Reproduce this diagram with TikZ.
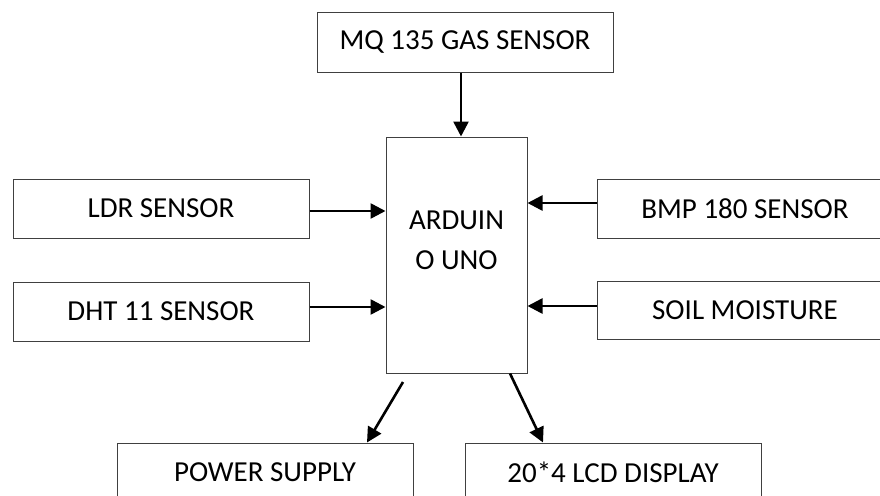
\documentclass[tikz,border=0pt]{standalone}
\usepackage{fontspec}
\setmainfont{Carlito}
\usetikzlibrary{arrows.meta}
\begin{document}
\begin{tikzpicture}[x=1pt,y=-1pt,
  box/.style={draw=black!75,line width=1pt,fill=white,inner sep=0pt,
    minimum width=296pt,minimum height=59pt,font=\fontsize{29}{40}\selectfont},
  lbl/.style={inner sep=0pt,align=center,font=\fontsize{29}{40}\selectfont},
  arr/.style={line width=2.6pt,-{Triangle[length=15pt,width=15pt]}}]
\clip (0,0) rectangle (880,495);
\fill[white] (0,0) rectangle (880,495);
\node[box] (mq) at (465,42.5) {MQ 135 GAS SENSOR};
\node[box,minimum width=141pt,minimum height=236pt] (ard) at (456.5,255) {};
\node[lbl] (ardtxt) at (456.5,240) {ARDUIN\\O UNO};
\node[box] (ldr) at (161,208.5) {LDR SENSOR};
\node[box] (dht) at (161,311.5) {DHT 11 SENSOR};
\node[box] (bmp) at (745,208.5) {BMP 180 SENSOR};
\node[box,minimum height=58pt] (soil) at (745,310) {SOIL MOISTURE};
\node[box] (pw) at (265,472.5) {POWER SUPPLY};
\node[box] (lcd) at (613,472.5) {20*4 LCD DISPLAY};
% connectors
\draw[arr] ([xshift=-4pt]mq.south) -- ([xshift=4.5pt]ard.north);
\coordinate (l1) at ([yshift=-2.5pt]ldr.east);
\draw[arr] (l1) -- (l1 -| ard.west);
\coordinate (l2) at ([yshift=4.5pt]dht.east);
\draw[arr] (l2) -- (l2 -| ard.west);
\coordinate (r1) at ([yshift=5.5pt]bmp.west);
\draw[arr] (r1) -- (r1 -| ard.east);
\coordinate (r2) at ([yshift=4pt]soil.west);
\draw[arr] (r2) -- (r2 -| ard.east);
\coordinate (p0) at (403,382);
\draw[arr] (p0) -- ([xshift=102pt]pw.north);
\draw[arr] ([xshift=53.5pt]ard.south) -- ([xshift=-70pt]lcd.north);
\end{tikzpicture}
\end{document}
